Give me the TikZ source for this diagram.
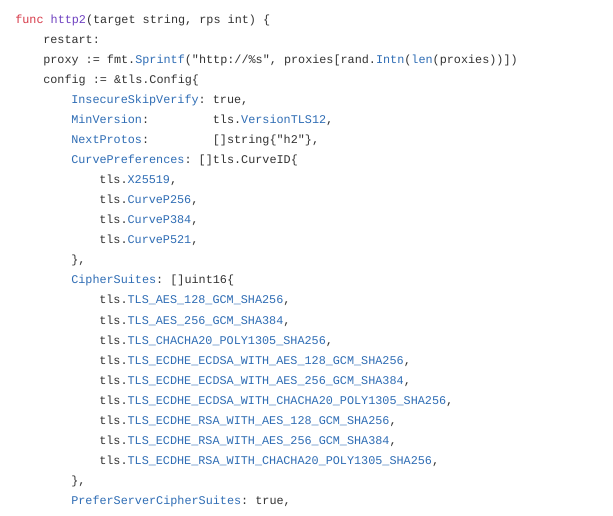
\documentclass[tikz,border=0pt]{standalone}
\usepackage{fontspec}
\setmonofont{Liberation Mono}
\definecolor{txt}{HTML}{333333}
\definecolor{blu}{HTML}{2F6DB5}
\definecolor{kw}{HTML}{D73A49}
\definecolor{fn}{HTML}{6F42C1}
\newcommand\Bl[1]{\textcolor{blu}{#1}}
\tikzset{codeline/.style={anchor=base west,inner sep=0pt,text=txt,font=\ttfamily\fontsize{8.85pt}{10pt}\selectfont}}
\begin{document}
\begin{tikzpicture}[x=0.75pt,y=-0.75pt]
\useasboundingbox (0,0) rectangle (613,516);
\fill[white] (0,0) rectangle (613,516);
\newcommand\CL[3]{\node[codeline] (l#1) at ({15+28*#2},{24+20*(#1-1)}) {#3};}
\CL{1}{0}{\textcolor{kw}{func} \textcolor{fn}{http2}(target string, rps int) \{}
\CL{2}{1}{restart:}
\CL{3}{1}{proxy := fmt.\Bl{Sprintf}("http://\%s", proxies[rand.\Bl{Intn}(\Bl{len}(proxies))])}
\CL{4}{1}{config := \&tls.Config\{}
\CL{5}{2}{\Bl{InsecureSkipVerify}: true,}
\CL{6}{2}{\Bl{MinVersion}:~~~~~~~~~tls.\Bl{VersionTLS12},}
\CL{7}{2}{\Bl{NextProtos}:~~~~~~~~~[]string\{"h2"\},}
\CL{8}{2}{\Bl{CurvePreferences}: []tls.CurveID\{}
\CL{9}{3}{tls.\Bl{X25519},}
\CL{10}{3}{tls.\Bl{CurveP256},}
\CL{11}{3}{tls.\Bl{CurveP384},}
\CL{12}{3}{tls.\Bl{CurveP521},}
\CL{13}{2}{\},}
\CL{14}{2}{\Bl{CipherSuites}: []uint16\{}
\CL{15}{3}{tls.\Bl{TLS\_AES\_128\_GCM\_SHA256},}
\CL{16}{3}{tls.\Bl{TLS\_AES\_256\_GCM\_SHA384},}
\CL{17}{3}{tls.\Bl{TLS\_CHACHA20\_POLY1305\_SHA256},}
\CL{18}{3}{tls.\Bl{TLS\_ECDHE\_ECDSA\_WITH\_AES\_128\_GCM\_SHA256},}
\CL{19}{3}{tls.\Bl{TLS\_ECDHE\_ECDSA\_WITH\_AES\_256\_GCM\_SHA384},}
\CL{20}{3}{tls.\Bl{TLS\_ECDHE\_ECDSA\_WITH\_CHACHA20\_POLY1305\_SHA256},}
\CL{21}{3}{tls.\Bl{TLS\_ECDHE\_RSA\_WITH\_AES\_128\_GCM\_SHA256},}
\CL{22}{3}{tls.\Bl{TLS\_ECDHE\_RSA\_WITH\_AES\_256\_GCM\_SHA384},}
\CL{23}{3}{tls.\Bl{TLS\_ECDHE\_RSA\_WITH\_CHACHA20\_POLY1305\_SHA256},}
\CL{24}{2}{\},}
\CL{25}{2}{\Bl{PreferServerCipherSuites}: true,}
\end{tikzpicture}
\end{document}
